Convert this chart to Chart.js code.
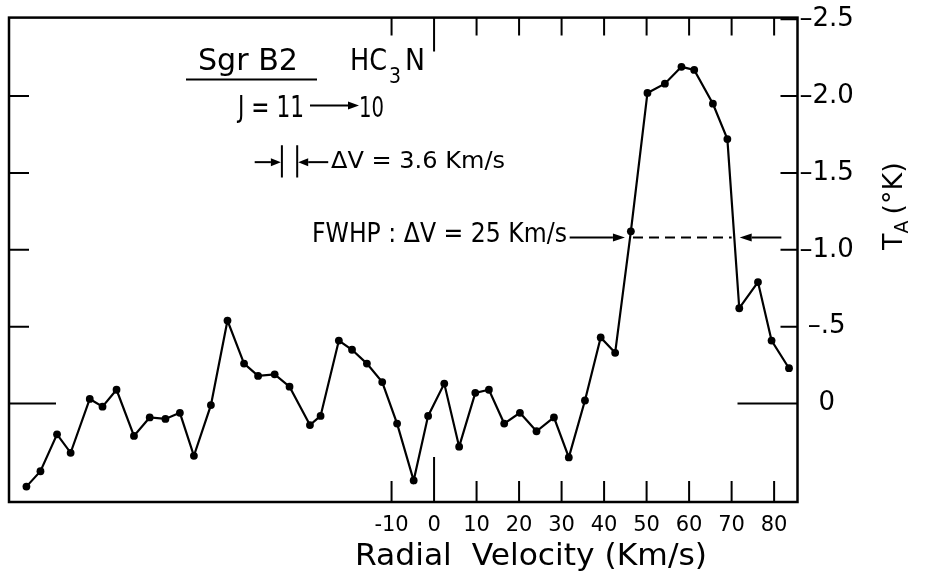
<!DOCTYPE html>
<html lang="en">
<head>
  <meta charset="UTF-8">
  <title>Sgr B2 HC3N J=11-10</title>
  <script src="https://cdn.jsdelivr.net/npm/chart.js@4.4.1/dist/chart.umd.min.js"></script>
  <style>
    html, body { margin: 0; padding: 0; background: #fff; }
    #wrap { width: 932px; height: 577px; }
  </style>
</head>
<body>
  <div id="wrap"><canvas id="spectrum" width="932" height="577"></canvas></div>

  <script>
    // radial velocity (km/s) of each channel and antenna temperature (K)
    const velocities = [
      -95.9, -92.6, -88.7, -85.5, -81.0, -78.0, -74.7, -70.6, -66.9, -63.2,
      -59.8, -56.5, -52.5, -48.6, -44.7, -41.4, -37.5, -34.0, -29.2, -26.7,
      -22.4, -19.3, -15.8, -12.2, -8.7, -4.8, -1.4, 2.4, 5.9, 9.7,
      12.9, 16.5, 20.2, 24.1, 28.2, 31.7, 35.5, 39.2, 42.6, 46.3,
      50.2, 54.3, 58.2, 61.2, 65.6, 69.0, 71.8, 76.2, 79.4, 83.5
    ];
    const antennaTemps = [
      -0.54, -0.44, -0.20, -0.32, 0.03, -0.02, 0.09, -0.21, -0.09, -0.10,
      -0.06, -0.34, -0.01, 0.54, 0.26, 0.18, 0.19, 0.11, -0.14, -0.08,
      0.41, 0.35, 0.26, 0.14, -0.13, -0.50, -0.08, 0.13, -0.28, 0.07,
      0.09, -0.13, -0.06, -0.18, -0.09, -0.35, 0.02, 0.43, 0.33, 1.12,
      2.02, 2.08, 2.19, 2.17, 1.95, 1.72, 0.62, 0.79, 0.41, 0.23
    ];

    const xTickValues = [-10, 0, 10, 20, 30, 40, 50, 60, 70, 80];
    const xTickLabels = ['-10', '0', '10', '20', '30', '40', '50', '60', '70', '80'];
    const yTickValues = [0, 0.5, 1, 1.5, 2, 2.5];
    const yTickLabels = ['0', '–.5', '–1.0', '–1.5', '–2.0', '–2.5'];

    // annotation anchors in data units
    const fwhpLevel = 1.08;
    const fwhpLeftArrow = [31.9, 44.9];
    const fwhpDashed = [46.8, 70.0];
    const fwhpRightArrow = [81.7, 71.9];
    const resBars = [-35.8, -32.2];
    const resArrowFrom = [-42.2, -24.9];
    const resLevel = 1.57;
    const resBarSpan = [1.47, 1.68];

    const FAMILY = '"DejaVu Sans", "Liberation Sans", sans-serif';
    const INK = '#000';

    const points = velocities.map((v, i) => ({ x: v, y: antennaTemps[i] }));

    // draw text squeezed / stretched to a given width
    function fitText(ctx, text, x, y, width, size) {
      ctx.save();
      ctx.font = size + 'px ' + FAMILY;
      ctx.textAlign = 'left';
      ctx.textBaseline = 'alphabetic';
      const w = ctx.measureText(text).width;
      ctx.translate(x, y);
      ctx.scale(width / w, 1);
      ctx.fillText(text, 0, 0);
      ctx.restore();
    }

    function arrow(ctx, x0, y0, x1, y1, head) {
      const dir = Math.sign(x1 - x0);
      ctx.beginPath();
      ctx.moveTo(x0, y0);
      ctx.lineTo(x1 - dir * head, y1);
      ctx.stroke();
      ctx.beginPath();
      ctx.moveTo(x1, y1);
      ctx.lineTo(x1 - dir * head, y1 - 4);
      ctx.lineTo(x1 - dir * head, y1 + 4);
      ctx.closePath();
      ctx.fill();
    }

    const framePlugin = {
      id: 'frame',
      beforeDatasetsDraw(chart) {
        const { ctx, chartArea: a, scales } = chart;
        ctx.save();
        ctx.strokeStyle = INK;
        ctx.lineWidth = 2.5;
        ctx.strokeRect(a.left, a.top, a.right - a.left, a.bottom - a.top);

        ctx.lineWidth = 2;
        ctx.beginPath();
        xTickValues.forEach(v => {
          const px = scales.x.getPixelForValue(v);
          ctx.moveTo(px, a.bottom);
          ctx.lineTo(px, a.bottom - (v === 0 ? 45 : 21));
          ctx.moveTo(px, a.top);
          ctx.lineTo(px, a.top + (v === 0 ? 34 : 18));
        });
        yTickValues.forEach(v => {
          const py = scales.y.getPixelForValue(v);
          if (v < 2.5) {
            ctx.moveTo(a.left, py);
            ctx.lineTo(a.left + (v === 0 ? 47 : 20), py);
          }
          ctx.moveTo(a.right, py);
          ctx.lineTo(a.right - (v === 0 ? 60 : 17), py);
        });
        ctx.stroke();
        ctx.restore();
      },
      afterDraw(chart) {
        const { ctx, scales } = chart;
        const X = v => scales.x.getPixelForValue(v);
        const Y = v => scales.y.getPixelForValue(v);
        ctx.save();
        ctx.fillStyle = INK;
        ctx.strokeStyle = INK;
        ctx.lineWidth = 2;

        // title block
        fitText(ctx, 'Sgr B2', 198, 70, 100, 30);
        ctx.beginPath();
        ctx.moveTo(186, 79.5);
        ctx.lineTo(317, 79.5);
        ctx.stroke();
        fitText(ctx, 'HC', 350, 70, 37, 30);
        fitText(ctx, '3', 389, 83, 12, 21);
        fitText(ctx, 'N', 405, 70, 20, 30);
        fitText(ctx, 'J = 11', 238, 116.7, 66, 30);
        arrow(ctx, 310, 105.5, 359, 105.5, 11);
        fitText(ctx, '10', 359, 116.7, 25, 28);

        // spectral resolution marker
        const fy = Y(resLevel);
        arrow(ctx, X(resArrowFrom[0]), fy, X(resBars[0]) - 1, fy, 10);
        arrow(ctx, X(resArrowFrom[1]), fy, X(resBars[1]) + 1, fy, 10);
        ctx.beginPath();
        resBars.forEach(v => {
          ctx.moveTo(X(v), Y(resBarSpan[1]));
          ctx.lineTo(X(v), Y(resBarSpan[0]));
        });
        ctx.stroke();
        fitText(ctx, 'ΔV = 3.6 Km/s', 331, 168.3, 174, 23);

        // FWHP
        const hy = Y(fwhpLevel);
        fitText(ctx, 'FWHP : ΔV = 25 Km/s', 312, 242.3, 255, 26);
        arrow(ctx, X(fwhpLeftArrow[0]), hy, X(fwhpLeftArrow[1]), hy, 12);
        arrow(ctx, X(fwhpRightArrow[0]), hy, X(fwhpRightArrow[1]), hy, 12);
        ctx.setLineDash([10, 6]);
        ctx.beginPath();
        ctx.moveTo(X(fwhpDashed[0]), hy);
        ctx.lineTo(X(fwhpDashed[1]), hy);
        ctx.stroke();
        ctx.setLineDash([]);

        // axis titles
        fitText(ctx, 'Radial  Velocity (Km/s)', 355, 565, 352, 30);

        ctx.translate(902, 250);
        ctx.rotate(-Math.PI / 2);
        ctx.font = '27px ' + FAMILY;
        ctx.textBaseline = 'alphabetic';
        ctx.fillText('T', 0, 0);
        let w = ctx.measureText('T').width;
        ctx.font = '19px ' + FAMILY;
        ctx.fillText('A', w, 6);
        w += ctx.measureText('A').width + 6;
        ctx.font = '27px ' + FAMILY;
        ctx.fillText('(°K)', w, 0);
        ctx.restore();
      }
    };

    new Chart(document.getElementById('spectrum'), {
      type: 'line',
      data: {
        datasets: [{
          data: points,
          borderColor: INK,
          borderWidth: 2.2,
          pointRadius: 3.9,
          pointBackgroundColor: INK,
          pointBorderWidth: 0,
          tension: 0,
          fill: false
        }]
      },
      options: {
        responsive: false,
        animation: false,
        devicePixelRatio: 1,
        layout: { padding: { left: 9, top: 17, right: 0, bottom: 0 } },
        plugins: { legend: { display: false }, tooltip: { enabled: false } },
        scales: {
          x: {
            type: 'linear',
            position: 'bottom',
            min: -100,
            max: 85.5,
            afterBuildTicks: s => { s.ticks = xTickValues.map(v => ({ value: v })); },
            afterFit: s => { s.height = 75; },
            grid: { display: false, drawTicks: false },
            border: { display: false },
            ticks: {
              color: INK,
              font: { family: FAMILY, size: 21 },
              padding: 11,
              maxRotation: 0,
              autoSkip: false,
              callback: v => xTickLabels[xTickValues.indexOf(v)]
            }
          },
          y: {
            type: 'linear',
            position: 'right',
            min: -0.64,
            max: 2.51,
            afterBuildTicks: s => { s.ticks = yTickValues.map(v => ({ value: v })); },
            afterFit: s => { s.width = 134.5; },
            grid: { display: false, drawTicks: false },
            border: { display: false },
            ticks: {
              color: INK,
              font: { family: FAMILY, size: 26 },
              padding: 2,
              crossAlign: 'center',
              autoSkip: false,
              callback: v => yTickLabels[yTickValues.indexOf(v)]
            }
          }
        }
      },
      plugins: [framePlugin]
    });
  </script>
</body>
</html>
